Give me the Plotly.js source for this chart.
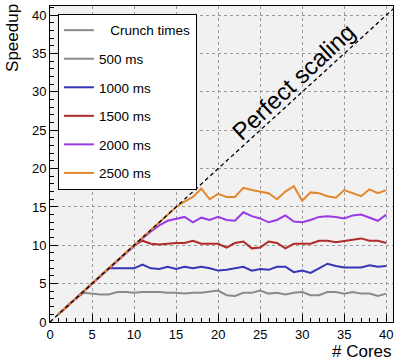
<!DOCTYPE html>
<html>
<head>
<meta charset="utf-8">
<script src="https://cdn.plot.ly/plotly-3.0.1.min.js"></script>
<style>html,body{margin:0;padding:0;background:#fff}#chart{width:396px;height:362px}</style>
</head>
<body>
<div id="chart"></div>
<script>
const cores = [1,2,3,4,5,6,7,8,9,10,11,12,13,14,15,16,17,18,19,20,21,22,23,24,25,26,27,28,29,30,31,32,33,34,35,36,37,38,39,40];
const names = ["500 ms","1000 ms","1500 ms","2000 ms","2500 ms"];
const colors = ["#8a8a8a","#3535b8","#b02a2a","#9a3ae6","#e4872c"];
const s500  = [1,2,3,3.8,3.7,3.6,3.6,3.9,3.9,3.8,3.9,3.9,3.9,3.8,3.8,3.7,3.8,3.8,4.0,4.1,3.5,3.4,3.8,3.8,4.1,3.7,3.8,3.6,3.8,3.9,3.5,3.5,3.9,3.9,3.7,3.9,3.7,3.7,3.4,3.7];
const s1000 = [1,2,3,4,5,6,7,7.0,7.0,7.0,7.5,7.0,6.9,7.2,6.9,7.2,7.0,7.2,7.0,6.7,6.8,7.0,7.2,6.7,6.9,6.8,7.2,7.2,6.5,6.7,6.4,7.0,7.6,7.3,7.1,7.1,7.1,7.4,7.2,7.3];
const s1500 = [1,2,3,4,5,6,7,8,9,10,10.6,10.2,10.1,10.2,10.3,10.3,10.6,10.2,10.2,10.2,9.7,10.3,10.5,9.6,9.7,10.5,10.3,9.6,10.2,10.2,10.2,10.6,10.6,10.4,10.6,10.7,10.9,10.6,10.6,10.3];
const s2000 = [1,2,3,4,5,6,7,8,9,10,10.9,11.8,12.6,13.2,13.4,13.7,13.0,13.6,13.3,13.7,13.3,13.2,14.3,13.8,13.5,13.0,13.3,13.9,13.1,13.0,13.3,13.7,13.8,13.7,13.5,13.9,14.0,13.6,13.2,14.0];
const s2500 = [1,2,3,4,5,6,7,8,9,10,11,12,13,14,15,15.7,16.3,17.4,16.0,16.7,16.3,16.3,17.5,17.2,17.0,16.8,16.0,17.0,17.7,15.8,16.9,16.8,16.4,16.2,17.2,16.8,16.4,17.3,16.8,17.2];
const series = [s500, s1000, s1500, s2000, s2500];
const perfectX = [0, 41];
const perfectY = [0, 41];
const xTicks = [0,5,10,15,20,25,30,35,40];
const yTicks = [0,5,10,15,20,25,30,35,40];

const traces = [];
traces.push({x:[null], y:[null], mode:'lines', name:'\u00a0\u00a0\u00a0Crunch times',
  line:{color:'#8a8a8a', width:2}, legendgroup:'h', hoverinfo:'skip'});
series.forEach((s,i)=>{
  traces.push({x:cores, y:s, mode:'lines', name:names[i], line:{color:colors[i], width:2},
    legendgroup:'g'+i});
});
traces.push({x:perfectX, y:perfectY, mode:'lines', showlegend:false,
  line:{color:'#000', width:1.3, dash:'4px,3px'}});

const axisCommon = {
  showline:true, linecolor:'#000', linewidth:1, mirror:true,
  ticks:'inside', ticklen:8, tickwidth:1, tickcolor:'#000',
  showgrid:true, gridcolor:'#9a9a9a', griddash:'dot', gridwidth:1,
  zeroline:false, tickfont:{family:'Liberation Sans, Arial', size:13, color:'#000'},
  minor:{dtick:1, ticks:'inside', ticklen:4, tickcolor:'#000', showgrid:false},
  fixedrange:true
};

const layout = {
  width:396, height:362,
  margin:{l:50, r:3, t:6, b:40},
  paper_bgcolor:'#fff', plot_bgcolor:'#f1f1f1',
  showlegend:true,
  xaxis:Object.assign({}, axisCommon, {range:[0,40.8], tickvals:xTicks}),
  yaxis:Object.assign({}, axisCommon, {range:[0,41.2], tickvals:yTicks}),
  legend:{x:0.023, y:0.975, xanchor:'left', yanchor:'top', bgcolor:'#fff',
    bordercolor:'#000', borderwidth:1, tracegroupgap:8, itemwidth:30,
    font:{family:'Liberation Sans, Arial', size:13.5, color:'#000'}},
  annotations:[
    {text:'Speedup', xref:'paper', yref:'paper', x:-0.108, y:1.0095, xanchor:'center', yanchor:'top',
     textangle:-90, showarrow:false, borderpad:0, font:{family:'Liberation Sans, Arial', size:17, color:'#000'}},
    {text:'# Cores', xref:'paper', yref:'paper', x:1.0, y:-0.1266, xanchor:'right', yanchor:'bottom',
     showarrow:false, borderpad:0, font:{family:'Liberation Sans, Arial', size:17, color:'#000'}},
    {text:'Perfect scaling', xref:'x', yref:'y', x:29.0, y:31.3, textangle:-43, showarrow:false,
     font:{family:'Liberation Sans, Arial', size:24, color:'#000'}}
  ]
};
Plotly.newPlot('chart', traces, layout, {displayModeBar:false, staticPlot:true});
</script>
</body>
</html>
